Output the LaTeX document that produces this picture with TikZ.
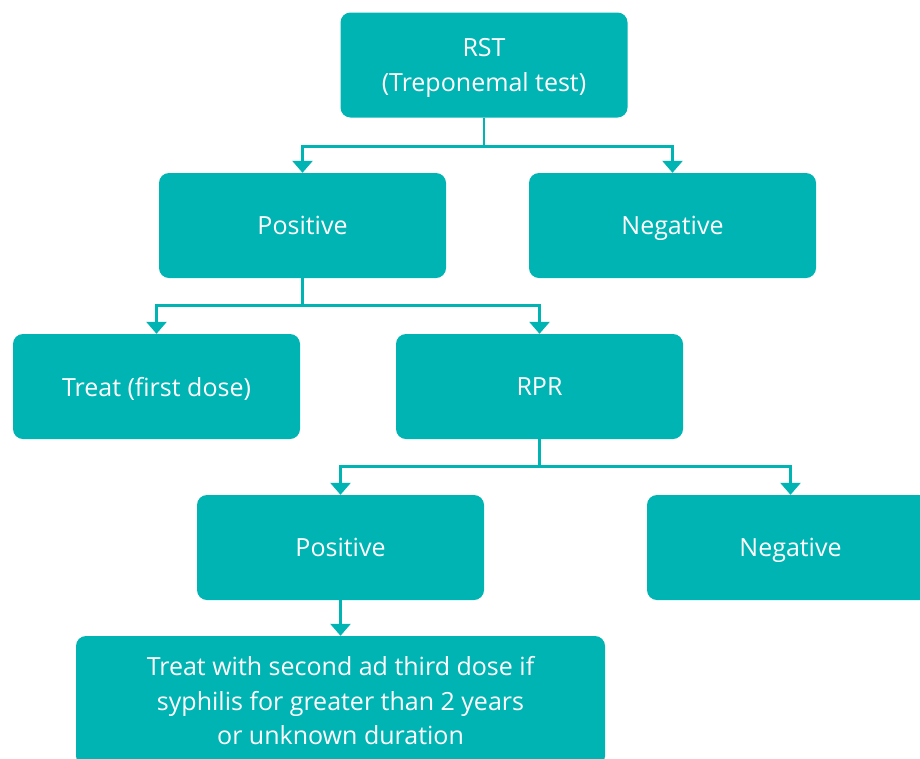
\documentclass[tikz,border=0pt]{standalone}
\usepackage{fontspec}
\setmainfont{Open Sans}
\usetikzlibrary{arrows.meta}
\definecolor{tealbox}{HTML}{00B4B4}
\begin{document}
\begin{tikzpicture}[x=1pt,y=-1pt,
  box/.style={fill=tealbox, rounded corners=10pt, minimum width=287pt,
    minimum height=105pt, text=white, font=\fontsize{25}{34.5}\selectfont,
    align=center, inner sep=0pt},
  flat/.style={text depth=0pt},
  link/.style={draw=tealbox, line width=2.6pt,
    -{Triangle[width=20pt,length=12pt]}}]
\useasboundingbox (0,0) rectangle (920,758);
\begin{scope}
\clip (0,0) rectangle (920,758);
% level 1
\node[box, flat] (rst) at (484,65) {RST\\(Treponemal test)};
% level 2
\node[box] (pos1) at (302.5,225.5) {Positive};
\node[box, flat] (neg1) at (672.5,225.5) {Negative};
% level 3
\node[box, flat] (treat1) at (156.5,386.5) {Treat (first dose)};
\node[box] (rpr) at (539.5,386.5) {RPR};
% level 4
\node[box] (pos2) at (340.5,547.5) {Positive};
\node[box, flat] (neg2) at (790.5,547.5) {Negative};
% level 5
\node[box, minimum width=529pt, minimum height=130pt] (treat2) at (340.5,701)
  {Treat with second ad third dose if\\syphilis for greater than 2 years\\or unknown duration};
\end{scope}
% connectors
\draw[link] (rst.south) -- ++(0,29) -| (pos1.north);
\draw[link] (rst.south) -- ++(0,29) -| (neg1.north);
\draw[link] (pos1.south) -- ++(0,27) -| (treat1.north);
\draw[link] (pos1.south) -- ++(0,27) -| (rpr.north);
\draw[link] (rpr.south) -- ++(0,27) -| (pos2.north);
\draw[link] (rpr.south) -- ++(0,27) -| (neg2.north);
\draw[link] (pos2.south) -- (treat2.north);
\end{tikzpicture}
\end{document}
